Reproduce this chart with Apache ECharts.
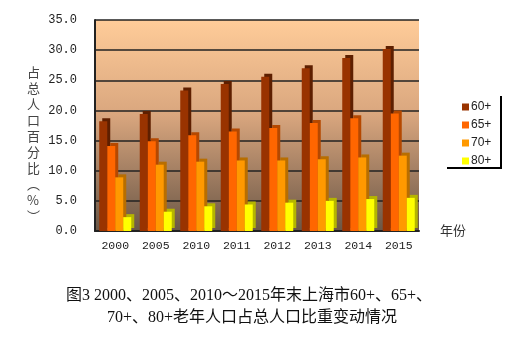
<!DOCTYPE html>
<html><head><meta charset="utf-8">
<script src="https://cdn.jsdelivr.net/npm/echarts@6/dist/echarts.min.js"></script>
<style>html,body{margin:0;padding:0;background:#fff}#c{width:519px;height:343px}</style>
</head><body><div id="c"></div>
<script>
const categories = ['2000','2005','2010','2011','2012','2013','2014','2015'];
const s60 = [18.2, 19.4, 23.3, 24.4, 25.6, 27.0, 28.7, 30.2];
const s65 = [14.1, 14.9, 15.9, 16.5, 17.1, 17.9, 18.7, 19.5];
const s70 = [8.9, 11.0, 11.5, 11.7, 11.7, 11.9, 12.2, 12.5];
const s80 = [2.3, 3.2, 4.1, 4.4, 4.7, 5.0, 5.3, 5.5];
const seriesNames = ['60+','65+','70+','80+'];
const yTicks = [0,5,10,15,20,25,30,35];

const colors = ['#993300','#FF6600','#FF9900','#FFFF00'];
const sides = ['#5E1F00','#B54800','#B86E00','#B5B500'];
const data = [s60, s65, s70, s80];

const chart = echarts.init(document.getElementById('c'));
const mono = '"Liberation Mono", "DejaVu Sans Mono", monospace';
chart.setOption({
  animation: false,
  grid: {
    left: 95, right: 100, top: 20, bottom: 112, show: true,
    borderWidth: 0,
    backgroundColor: {type:'linear', x:0, y:0, x2:0, y2:1, colorStops:[
      {offset:0, color:'#FFCC99'}, {offset:0.45, color:'#D9A67E'}, {offset:1, color:'#6A5646'}]}
  },
  xAxis: {
    type: 'category', data: categories,
    axisLine: {show: true, lineStyle: {color:'#222', width: 2}},
    axisTick: {show: false},
    axisLabel: {fontFamily: mono, fontSize: 11.5, color: '#222', margin: 9}
  },
  yAxis: {
    type: 'value', min: 0, max: 35, interval: 5,
    axisLine: {show: true, lineStyle: {color:'#222', width: 2}},
    axisTick: {show: false},
    splitLine: {lineStyle: {color: '#222', width: 1.5}},
    axisLabel: {fontFamily: mono, fontSize: 12, color: '#222', margin: 18,
      formatter: v => yTicks.includes(v) ? v.toFixed(1) : ''}
  },
  legend: {
    orient: 'vertical', left: 457, top: 96, itemWidth: 7, itemHeight: 7, itemGap: 6,
    icon: 'rect',
    textStyle: {fontFamily: '"Liberation Sans", Arial, sans-serif', fontSize: 12, color: '#222', padding: [0,0,0,-3]},
    data: seriesNames
  },
  series: seriesNames.map((n, i) => ({
    name: n, type: 'bar', data: data[i], barWidth: 8, barGap: '0%',
    itemStyle: {color: colors[i], shadowColor: sides[i], shadowOffsetX: 3, shadowOffsetY: -3, shadowBlur: 0}
  })),
  graphic: [
    {type:'line', shape:{x1:501, y1:96, x2:501, y2:168}, style:{stroke:'#000', lineWidth:2}},
    {type:'line', shape:{x1:447, y1:168, x2:502, y2:168}, style:{stroke:'#000', lineWidth:2}},
    {type:'text', left: 27, top: 64, style:{text:'占\n总\n人\n口\n百\n分\n比\n︵\n%\n︶', fontSize: 13, lineHeight: 16,
      fontFamily:'"Noto Sans CJK SC", sans-serif', fill:'#444', textAlign:'left'}},
    {type:'text', left: 440, top: 224, style:{text:'年份', fontSize: 13, fontFamily:'"Noto Sans CJK SC", sans-serif', fill:'#333'}},
    {type:'text', x: 249, y: 288, style:{text:'图3 2000、2005、2010～2015年末上海市60+、65+、', fontSize: 16,
      fontFamily:'"Liberation Serif", "Noto Sans CJK SC", serif', fill:'#111', textAlign:'center'}},
    {type:'text', x: 252, y: 310, style:{text:'70+、80+老年人口占总人口比重变动情况', fontSize: 16,
      fontFamily:'"Liberation Serif", "Noto Sans CJK SC", serif', fill:'#111', textAlign:'center'}}
  ]
});
</script></body></html>
